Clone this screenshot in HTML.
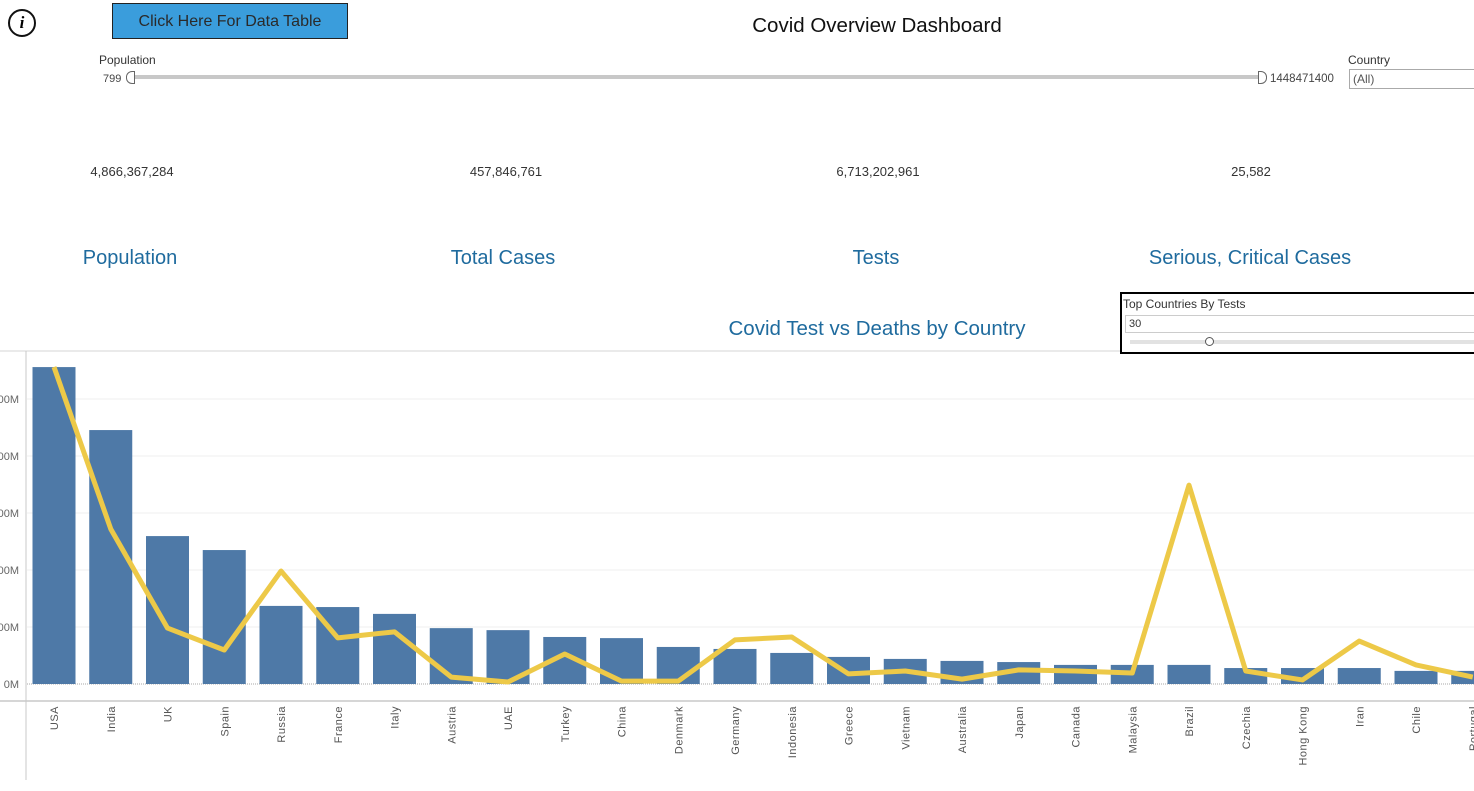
<!DOCTYPE html>
<html><head><meta charset="utf-8"><style>
body{margin:0;width:1474px;height:791px;overflow:hidden;background:#fff;font-family:"Liberation Sans",sans-serif;position:relative}
.a{position:absolute;white-space:nowrap}
.kpi{font-size:13px;color:#333;transform:translateX(-50%)}
.kt{font-size:20px;color:#1f6b9e;transform:translateX(-50%)}
</style></head><body>
<div class="a" style="left:8px;top:9px;width:24px;height:24px;border:2.5px solid #111;border-radius:50%;text-align:center;font:italic bold 17px 'Liberation Serif',serif;line-height:24px">i</div>
<div class="a" style="left:112px;top:3px;width:234px;height:34px;background:#3a9ddc;border:1px solid #222;font-size:16px;color:#2a2a2a;text-align:center;line-height:36px">Click Here For Data Table</div>
<div class="a" style="left:877px;top:14px;transform:translateX(-50%);font-size:20.5px;color:#111">Covid Overview Dashboard</div>
<div class="a" style="left:99px;top:53px;font-size:12px;color:#333">Population</div>
<div class="a" style="left:103px;top:73px;font-size:11px;color:#444">799</div>
<div class="a" style="left:130px;top:75px;width:1132px;height:4px;background:#c8c8c8"></div>
<div class="a" style="left:126px;top:71px;width:7px;height:11px;border:1px solid #666;border-radius:6px 0 0 6px;background:#fff"></div>
<div class="a" style="left:1258px;top:71px;width:7px;height:11px;border:1px solid #666;border-radius:0 6px 6px 0;background:#fff"></div>
<div class="a" style="left:1270px;top:73px;font-size:11.5px;color:#444">1448471400</div>
<div class="a" style="left:1348px;top:53px;font-size:12px;color:#333">Country</div>
<div class="a" style="left:1349px;top:69px;width:130px;height:18px;border:1px solid #aaa;font-size:12px;color:#555;line-height:18px;padding-left:3px">(All)</div>
<div class="a kpi" style="left:132px;top:164px">4,866,367,284</div>
<div class="a kpi" style="left:506px;top:164px">457,846,761</div>
<div class="a kpi" style="left:878px;top:164px">6,713,202,961</div>
<div class="a kpi" style="left:1251px;top:164px">25,582</div>
<div class="a kt" style="left:130px;top:247px">Population</div>
<div class="a kt" style="left:503px;top:247px">Total Cases</div>
<div class="a kt" style="left:876px;top:247px">Tests</div>
<div class="a kt" style="left:1250px;top:247px">Serious, Critical Cases</div>
<div class="a kt" style="left:877px;top:317px;font-size:20.5px">Covid Test vs Deaths by Country</div>
<svg class="a" style="left:0;top:0" width="1474" height="791" id="chart"></svg>
<div class="a" style="left:1120px;top:292px;width:360px;height:58px;border:2px solid #000;background:#fff">
<div class="a" style="left:1px;top:3px;font-size:12px;color:#333">Top Countries By Tests</div>
<div class="a" style="left:3px;top:21px;width:360px;height:16px;border:1px solid #ccc;font-size:11px;color:#333;line-height:16px;padding-left:3px">30</div>
<div class="a" style="left:8px;top:46px;width:360px;height:4px;background:#e2e2e2"></div>
<div class="a" style="left:83px;top:43px;width:7px;height:7px;border:1px solid #555;border-radius:50%;background:#fff"></div>
</div>
<script>
const countries=["USA","India","UK","Spain","Russia","France","Italy","Austria","UAE","Turkey","China","Denmark","Germany","Indonesia","Greece","Vietnam","Australia","Japan","Canada","Malaysia","Brazil","Czechia","Hong Kong","Iran","Chile","Portugal"];
const testsM=[1112,891,519,470,274,270,246,196,189,165,161,130,123,109,95,88,81,77,67,67,67,56,56,56,46,46];
const deathsK=[1100,538,194,118,392,160,181,24,7,104,10,10,153,163,35,45,17,49,45,38,690,45,14,149,66,24];
const yTicks=[0,200,400,600,800,1000];
const yTickLabels=["0M","200M","400M","600M","800M","1000M"];
const NS="http://www.w3.org/2000/svg";
const svg=document.getElementById('chart');
const y0=684, pxPerM=57/200, pxPerK=317/1100;
const xc=i=>54+i*56.75;
const yT=v=>y0-v*pxPerM;
const yD=v=>y0-v*pxPerK;
function mk(t,a){const e=document.createElementNS(NS,t);for(const k in a)e.setAttribute(k,a[k]);svg.appendChild(e);return e;}
let e;
e=mk('line',{x1:0,x2:1474,y1:351,y2:351,stroke:'#d4d4d4'});


e=mk('line',{x1:26,x2:26,y1:351,y2:780,stroke:'#c8c8c8'});


e=mk('line',{x1:0,x2:1474,y1:701,y2:701,stroke:'#c8c8c8','stroke-width':1.5});


yTicks.forEach((v,i)=>{
  if(v>0){e=mk('line',{x1:27,x2:1474,y1:yT(v),y2:yT(v),stroke:'#efefef'});
  
  }
  e=mk('text',{x:19,y:yT(v)+4,'text-anchor':'end','font-size':11,fill:'#666','font-family':'Liberation Sans'});
  e.textContent=yTickLabels[i];
  
  
});
e=mk('line',{x1:27,x2:1474,y1:y0,y2:y0,stroke:'#aaa','stroke-dasharray':'1,1'});


countries.forEach((c,i)=>{
  const x=xc(i);
  e=mk('rect',{x:x-21.5,y:yT(testsM[i]),width:43,height:testsM[i]*pxPerM,fill:'#4e79a7'});
  
  
  e=mk('text',{x:0,y:0,'text-anchor':'end','font-size':11,fill:'#555','font-family':'Liberation Sans',transform:`translate(${x+4},706) rotate(-90)`,'letter-spacing':'0.5'});
  e.textContent=c;
  
  
});
e=mk('polyline',{points:deathsK.map((d,i)=>xc(i)+','+yD(d)).join(' '),fill:'none',stroke:'#edc948','stroke-width':5,'stroke-linejoin':'round'});


</script>
</body></html>
